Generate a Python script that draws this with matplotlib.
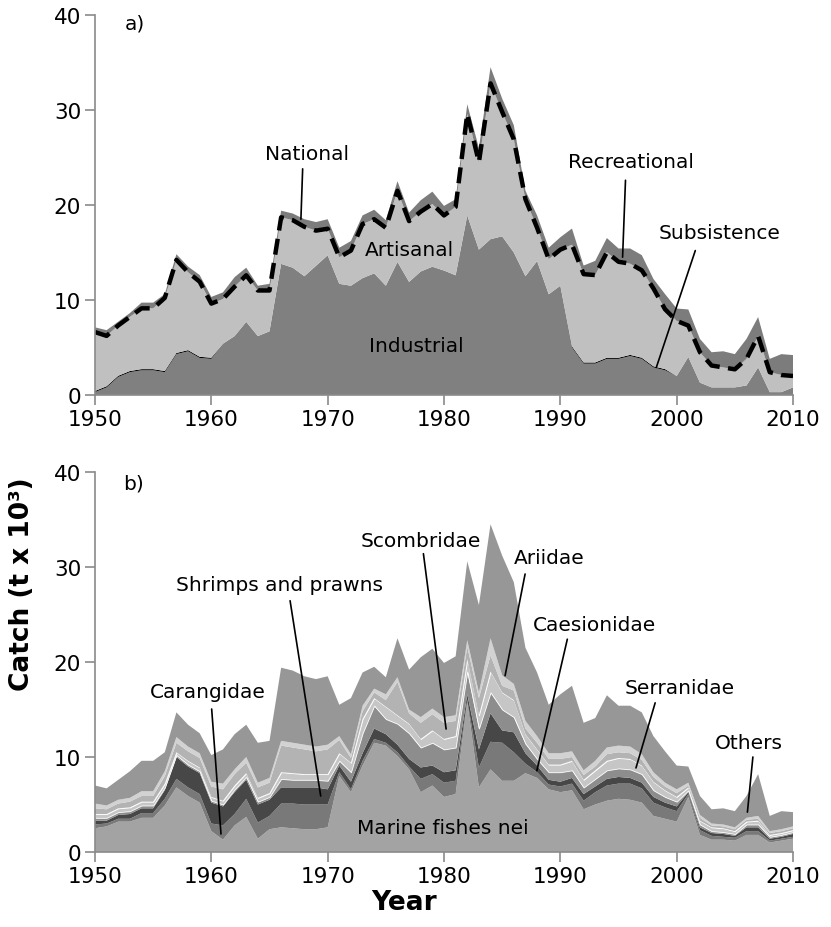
import numpy as np
import matplotlib
matplotlib.use("Agg")
import matplotlib.pyplot as plt

plt.rcParams['font.family'] = ['DejaVu Sans']

years = np.arange(1950, 2011)

# ---- a) catch by sector (t x 10^3)
industrial = [0.3, 0.8, 1.9, 2.4, 2.6, 2.6, 2.4, 4.3, 4.6, 3.9,
              3.8, 5.4, 6.2, 7.7, 6.2, 6.7, 13.8, 13.4, 12.5, 13.6,
              14.7, 11.7, 11.5, 12.3, 12.8, 11.5, 14.0, 11.9, 13.0, 13.5,
              13.1, 12.6, 18.9, 15.3, 16.4, 16.7, 15.0, 12.5, 14.1, 10.6,
              11.5, 5.0, 3.3, 3.3, 3.8, 3.8, 4.1, 3.8, 2.9, 2.6,
              2.0, 4.0, 1.3, 0.8, 0.8, 0.8, 1.0, 2.9, 0.3, 0.3,
              0.8]
subsistence = [0.12, 0.12, 0.12, 0.12, 0.12, 0.12, 0.12, 0.12, 0.12, 0.12,
               0.12, 0, 0, 0, 0, 0, 0, 0, 0, 0,
               0, 0, 0, 0, 0, 0, 0, 0, 0, 0,
               0, 0, 0, 0, 0, 0, 0, 0, 0, 0,
               0, 0.12, 0.12, 0.12, 0.12, 0.12, 0.12, 0.12, 0.12, 0.12,
               0, 0, 0, 0, 0, 0, 0, 0, 0, 0,
               0]
artisanal = [6.2, 5.3, 5.3, 5.7, 6.4, 6.4, 7.7, 9.8, 8.2, 7.9,
             5.7, 4.7, 5.2, 4.9, 4.8, 4.3, 4.9, 5.0, 5.2, 3.7,
             2.8, 2.8, 3.7, 5.7, 5.7, 6.1, 7.5, 6.4, 6.3, 6.6,
             5.8, 7.2, 10.7, 9.2, 16.4, 13.1, 11.9, 8.1, 3.5, 3.7,
             3.8, 10.7, 9.3, 9.2, 11.1, 10.1, 9.6, 9.2, 8.2, 6.3,
             5.8, 3.3, 3.2, 2.3, 2.1, 1.9, 2.8, 3.3, 2.1, 1.8,
             1.2]
recreational = [0.5, 0.6, 0.4, 0.4, 0.6, 0.6, 0.4, 0.6, 0.6, 0.7,
                0.7, 0.7, 1.0, 0.8, 0.5, 0.7, 0.7, 0.7, 0.8, 0.9,
                1.0, 1.0, 1.0, 0.9, 1.0, 0.8, 1.0, 0.9, 1.2, 1.3,
                1.0, 0.8, 1.0, 1.5, 1.7, 1.4, 1.5, 0.9, 1.3, 1.2,
                1.3, 1.7, 0.9, 1.5, 1.5, 1.4, 1.6, 1.6, 1.0, 1.6,
                1.3, 1.7, 1.4, 1.4, 1.7, 1.6, 2.1, 2.0, 1.4, 2.2,
                2.2]

# ---- b) catch by taxon (t x 10^3), bottom to top
marine_nei = [2.5, 2.7, 3.2, 3.2, 3.6, 3.6, 4.9, 6.8, 5.9, 5.2,
              2.2, 1.3, 2.8, 3.7, 1.4, 2.4, 2.6, 2.5, 2.4, 2.4,
              2.6, 8.0, 6.3, 9.1, 11.5, 11.2, 10.1, 8.7, 6.3, 7.0,
              5.8, 6.1, 15.8, 6.8, 8.7, 7.5, 7.5, 8.3, 7.8, 6.6,
              6.3, 6.5, 4.5, 5.0, 5.4, 5.6, 5.5, 5.2, 3.8, 3.5,
              3.2, 5.8, 1.8, 1.3, 1.3, 1.2, 1.8, 1.8, 1.0, 1.2,
              1.4]
carangidae = [0.4, 0.3, 0.3, 0.3, 0.5, 0.5, 0.7, 0.9, 0.9, 0.9,
              0.8, 1.5, 1.2, 1.9, 1.7, 1.4, 2.5, 2.6, 2.6, 2.6,
              2.4, 0.4, 0.3, 0.5, 0.4, 0.3, 0.4, 0.3, 1.4, 1.2,
              1.5, 1.4, 0.2, 2.1, 2.9, 4.0, 3.0, 1.0, 0.6, 0.5,
              0.6, 0.7, 0.9, 1.3, 1.6, 1.6, 1.7, 1.5, 1.4, 1.2,
              1.1, 0.3, 0.5, 0.4, 0.3, 0.3, 0.4, 0.4, 0.2, 0.2,
              0.2]
shrimps = [0.4, 0.3, 0.4, 0.5, 0.5, 0.5, 0.9, 2.3, 2.2, 2.2,
           2.2, 2.0, 2.3, 2.0, 1.9, 1.7, 1.7, 1.7, 1.8, 1.8,
           1.6, 0.7, 0.8, 0.8, 1.1, 0.9, 0.8, 0.8, 1.2, 0.9,
           1.1, 1.1, 0.6, 1.9, 3.0, 1.3, 2.1, 1.1, 0.7, 0.5,
           0.5, 0.6, 0.7, 0.6, 0.7, 0.7, 0.6, 0.6, 0.6, 0.5,
           0.5, 0.2, 0.3, 0.3, 0.3, 0.2, 0.4, 0.4, 0.2, 0.2,
           0.3]
caesionidae = [0.3, 0.3, 0.3, 0.3, 0.3, 0.3, 0.3, 0.2, 0.2, 0.2,
               0.2, 0.2, 0.3, 0.3, 0.3, 0.3, 0.9, 0.8, 0.8, 0.8,
               0.9, 0.5, 1.0, 2.1, 2.4, 1.6, 2.2, 2.7, 2.1, 2.4,
               2.4, 2.4, 2.4, 2.2, 2.2, 2.2, 1.6, 1.0, 0.7, 0.8,
               1.0, 0.8, 0.7, 0.8, 0.9, 0.9, 0.9, 0.9, 0.7, 0.6,
               0.5, 0.2, 0.3, 0.2, 0.2, 0.2, 0.3, 0.3, 0.2, 0.2,
               0.2]
serranidae = [0.4, 0.4, 0.4, 0.4, 0.4, 0.4, 0.4, 0.3, 0.4, 0.4,
              0.4, 0.4, 0.4, 0.4, 0.4, 0.4, 0.7, 0.7, 0.6, 0.6,
              0.7, 0.8, 1.0, 1.5, 0.8, 1.3, 0.9, 1.0, 0.9, 1.3,
              1.1, 1.2, 1.3, 1.4, 2.2, 1.8, 1.8, 1.0, 1.0, 0.8,
              0.8, 1.0, 0.8, 0.9, 1.0, 1.1, 1.1, 0.9, 0.9, 0.7,
              0.5, 0.3, 0.4, 0.4, 0.4, 0.3, 0.3, 0.4, 0.2, 0.2,
              0.2]
scombridae = [0.6, 0.5, 0.5, 0.6, 0.6, 0.6, 0.8, 1.0, 1.0, 1.0,
              1.1, 1.2, 1.2, 1.1, 1.1, 1.1, 2.8, 2.7, 2.6, 2.4,
              2.6, 1.4, 0.5, 0.8, 0.6, 0.7, 3.5, 1.1, 1.7, 1.7,
              1.7, 1.6, 1.3, 1.8, 1.7, 0.7, 1.0, 0.6, 0.7, 0.6,
              0.6, 0.4, 0.5, 0.4, 0.7, 0.6, 0.6, 0.6, 0.5, 0.4,
              0.4, 0.2, 0.3, 0.2, 0.2, 0.2, 0.2, 0.2, 0.2, 0.2,
              0.2]
ariidae = [0.5, 0.4, 0.4, 0.4, 0.5, 0.5, 0.5, 0.6, 0.5, 0.5,
           0.5, 0.6, 0.5, 0.6, 0.5, 0.5, 0.5, 0.5, 0.5, 0.5,
           0.5, 0.4, 0.4, 0.6, 0.4, 0.6, 0.5, 0.4, 0.6, 0.6,
           0.6, 0.6, 0.7, 0.6, 1.8, 1.1, 0.7, 0.8, 0.7, 0.6,
           0.6, 0.6, 0.5, 0.6, 0.7, 0.7, 0.7, 0.6, 0.5, 0.4,
           0.4, 0.3, 0.3, 0.2, 0.2, 0.2, 0.2, 0.3, 0.2, 0.2,
           0.2]
others = [1.9, 1.8, 2.1, 2.8, 3.2, 3.2, 2.0, 2.6, 2.3, 2.1,
          2.8, 3.6, 3.7, 3.4, 4.2, 3.9, 7.7, 7.6, 7.2, 7.1,
          7.2, 3.3, 5.9, 3.5, 2.3, 1.8, 4.1, 4.2, 6.3, 6.3,
          5.7, 6.2, 8.3, 9.2, 12.0, 12.6, 10.7, 7.7, 6.7, 5.1,
          6.2, 6.9, 5.0, 4.5, 5.5, 4.2, 4.3, 4.4, 3.8, 3.3,
          2.5, 1.7, 2.0, 1.5, 1.7, 1.7, 2.3, 4.4, 1.6, 1.9,
          1.5]

sector_colors = ['#808080', '#000000', '#c0c0c0', '#7c7c7c']
taxon_colors = ['#a3a3a3', '#797979', '#474747', '#8d8d8d',
                '#c6c6c6', '#b3b3b3', '#d2d2d2', '#979797']

fig = plt.figure(figsize=(8.31, 9.28), dpi=100)
ax1 = fig.add_axes([0.1143, 0.5733, 0.840, 0.4095])
ax2 = fig.add_axes([0.1143, 0.0808, 0.840, 0.4095])

ax1.stackplot(years, industrial, subsistence, artisanal, recreational,
              colors=sector_colors, linewidth=0)
national = np.array(industrial) + np.array(subsistence) + np.array(artisanal)
ax1.plot(years, national, color='black', lw=3.2, linestyle=(0, (3.6, 1.9)))

polys = ax2.stackplot(years, marine_nei, carangidae, shrimps, caesionidae,
                      serranidae, scombridae, ariidae, others,
                      colors=taxon_colors, linewidth=0)
polys[4].set_edgecolor('white')
polys[4].set_linewidth(0.6)

for ax in (ax1, ax2):
    ax.set_xlim(1950, 2010)
    ax.set_ylim(0, 40)
    ax.set_xticks(range(1950, 2011, 10))
    ax.set_yticks(range(0, 41, 10))
    ax.spines['top'].set_visible(False)
    ax.spines['right'].set_visible(False)
    for s in ('left', 'bottom'):
        ax.spines[s].set_color('#8a8a8a')
        ax.spines[s].set_linewidth(1.2)
    ax.tick_params(axis='both', direction='out', length=7, width=1.2,
                   color='#8a8a8a', labelsize=15.5, pad=3)

arrow_kw = dict(arrowstyle='-', color='black', lw=1.2, shrinkA=0, shrinkB=0)
fs = 14.5

# panel a labels
ax1.text(1952.6, 39.2, 'a)', fontsize=fs, va='center', ha='left')
ax1.text(1968.2, 25.4, 'National', fontsize=fs, ha='center', va='center')
ax1.annotate('', xy=(1967.7, 18.5), xytext=(1967.85, 23.8), arrowprops=arrow_kw)
ax1.text(1977.0, 15.3, 'Artisanal', fontsize=fs, ha='center', va='center')
ax1.text(1977.65, 5.2, 'Industrial', fontsize=fs, ha='center', va='center')
ax1.text(1996.1, 24.6, 'Recreational', fontsize=fs, ha='center', va='center')
ax1.annotate('', xy=(1995.35, 14.5), xytext=(1995.6, 22.6), arrowprops=arrow_kw)
ax1.text(2003.65, 17.05, 'Subsistence', fontsize=fs, ha='center', va='center')
ax1.annotate('', xy=(1998.25, 2.9), xytext=(2001.6, 15.2), arrowprops=arrow_kw)

# panel b labels
ax2.text(1952.4, 38.8, 'b)', fontsize=fs, va='center', ha='left')
ax2.text(1959.67, 16.9, 'Carangidae', fontsize=fs, ha='center', va='center')
ax2.annotate('', xy=(1960.83, 1.9), xytext=(1960.03, 15.05), arrowprops=arrow_kw)
ax2.text(1965.9, 28.2, 'Shrimps and prawns', fontsize=fs, ha='center', va='center')
ax2.annotate('', xy=(1969.4, 5.9), xytext=(1966.77, 26.45), arrowprops=arrow_kw)
ax2.text(1978.0, 32.8, 'Scombridae', fontsize=fs, ha='center', va='center')
ax2.annotate('', xy=(1980.18, 12.95), xytext=(1978.23, 31.4), arrowprops=arrow_kw)
ax2.text(1989.08, 31.0, 'Ariidae', fontsize=fs, ha='center', va='center')
ax2.annotate('', xy=(1985.25, 18.56), xytext=(1986.97, 29.26), arrowprops=arrow_kw)
ax2.text(1992.9, 24.0, 'Caesionidae', fontsize=fs, ha='center', va='center')
ax2.annotate('', xy=(1987.98, 8.56), xytext=(1990.6, 22.4), arrowprops=arrow_kw)
ax2.text(2000.3, 17.3, 'Serranidae', fontsize=fs, ha='center', va='center')
ax2.annotate('', xy=(1996.5, 8.85), xytext=(1998.15, 15.7), arrowprops=arrow_kw)
ax2.text(2006.2, 11.5, 'Others', fontsize=fs, ha='center', va='center')
ax2.annotate('', xy=(2006.08, 4.2), xytext=(2006.55, 10.0), arrowprops=arrow_kw)
ax2.text(1979.9, 2.6, 'Marine fishes nei', fontsize=fs, ha='center', va='center')

fig.text(0.026, 0.371, 'Catch (t x 10³)', rotation=90, fontsize=19,
         fontweight='bold', ha='center', va='center')
fig.text(0.486, 0.027, 'Year', fontsize=19, fontweight='bold',
         ha='center', va='center')

fig.savefig('out.png', dpi=100)
